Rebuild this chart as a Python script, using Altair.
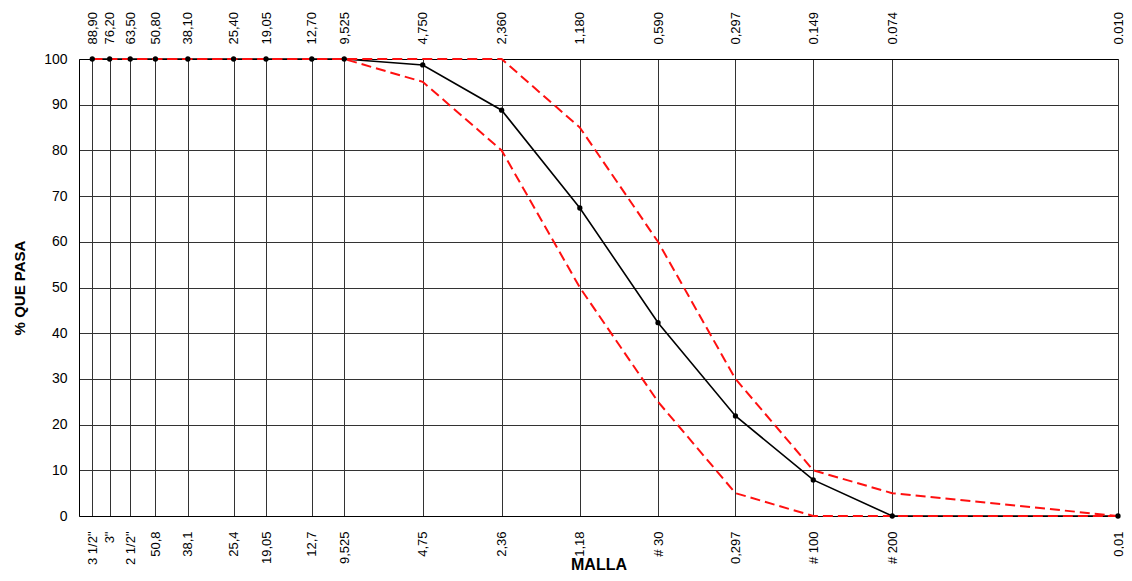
import altair as alt
import pandas as pd

sieves = [88.9, 76.2, 63.5, 50.8, 38.1, 25.4, 19.05, 12.7, 9.525, 4.75, 2.36, 1.18, 0.59, 0.297, 0.149, 0.074, 0.01]
bottom_labels = ['3 1/2"', '3"', '2 1/2"', '50,8', '38,1', '25,4', '19,05', '12,7', '9,525', '4,75', '2,36', '1,18', '# 30', '0,297', '# 100', '# 200', '0,01']
top_labels = ['88,90', '76,20', '63,50', '50,80', '38,10', '25,40', '19,05', '12,70', '9,525', '4,750', '2,360', '1,180', '0,590', '0,297', '0.149', '0.074', '0.010']

muestra = [100, 100, 100, 100, 100, 100, 100, 100, 100, 98.7, 88.8, 67.4, 42.3, 21.9, 7.9, 0, 0]
lim_sup = [100, 100, 100, 100, 100, 100, 100, 100, 100, 100, 100, 85, 60, 30, 10, 5, 0]
lim_inf = [100, 100, 100, 100, 100, 100, 100, 100, 100, 95, 80, 50, 25, 5, 0, 0, 0]

df_m = pd.DataFrame({"malla": sieves, "pasa": muestra})
df_s = pd.DataFrame({"malla": sieves, "pasa": lim_sup})
df_i = pd.DataFrame({"malla": sieves, "pasa": lim_inf})


def label_expr(labels):
    parts = []
    for v, lab in zip(sieves, labels):
        parts.append(f"datum.value == {v} ? '{lab}'")
    return " : ".join(parts) + " : ''"


FONT = "Liberation Sans"

xscale = alt.Scale(type="log", domain=[0.01, 100], reverse=True, nice=False)
yscale = alt.Scale(domain=[0, 100], nice=False)

x_bottom = alt.X(
    "malla:Q", scale=xscale,
    axis=alt.Axis(
        orient="bottom", values=sieves, labelExpr=label_expr(bottom_labels),
        labelAngle=-90, labelFontSize=13, labelFont=FONT, labelColor="#000",
        labelPadding=15, ticks=False, grid=True, gridColor="#333", gridWidth=1,
        domainColor="#000", labelOverlap=False, labelFlush=False,
        title="MALLA", titleFont=FONT, titleFontSize=16, titleFontWeight="bold",
        titleColor="#000", titleY=53, titleBaseline="alphabetic",
    ),
)
x_top = alt.X(
    "malla:Q", scale=xscale,
    axis=alt.Axis(
        orient="top", values=sieves, labelExpr=label_expr(top_labels),
        labelAngle=-90, labelFontSize=13, labelFont=FONT, labelColor="#000",
        labelPadding=15, ticks=False, grid=False, domainColor="#000",
        labelOverlap=False, labelFlush=False, title=None,
    ),
)
x_none = alt.X("malla:Q", scale=xscale, axis=None)
y_enc = alt.Y(
    "pasa:Q", scale=yscale,
    axis=alt.Axis(
        values=list(range(0, 101, 10)), labelFontSize=14, labelFont=FONT,
        labelColor="#000", labelPadding=12, ticks=False, grid=True,
        gridColor="#333", gridWidth=1, domainColor="#000",
        title="% QUE PASA", titleFont=FONT, titleFontSize=15,
        titleFontWeight="bold", titleColor="#000", titlePadding=16,
    ),
)

black_line = alt.Chart(df_m).mark_line(color="#000", strokeWidth=1.6).encode(x=x_bottom, y=y_enc)
sup_line = alt.Chart(df_s).mark_line(color="#ff1010", strokeWidth=2, strokeDash=[10, 5]).encode(x=x_top, y="pasa:Q")
inf_line = alt.Chart(df_i).mark_line(color="#ff1010", strokeWidth=2, strokeDash=[10, 5]).encode(x=x_none, y="pasa:Q")
pts = alt.Chart(df_m).mark_point(filled=True, color="#000", size=28, opacity=1).encode(x=x_none, y="pasa:Q")

chart = (
    alt.layer(black_line, sup_line, inf_line, pts)
    .resolve_axis(x="independent")
    .properties(
        width=1039, height=457,
        autosize=alt.AutoSizeParams(type="none"),
        padding={"left": 71, "top": 51, "right": 6, "bottom": 57},
    )
    .configure_view(stroke="#000", strokeWidth=1)
    .configure(background="white")
)

chart.save("out.html", embed_options={"renderer": "svg", "actions": False})
